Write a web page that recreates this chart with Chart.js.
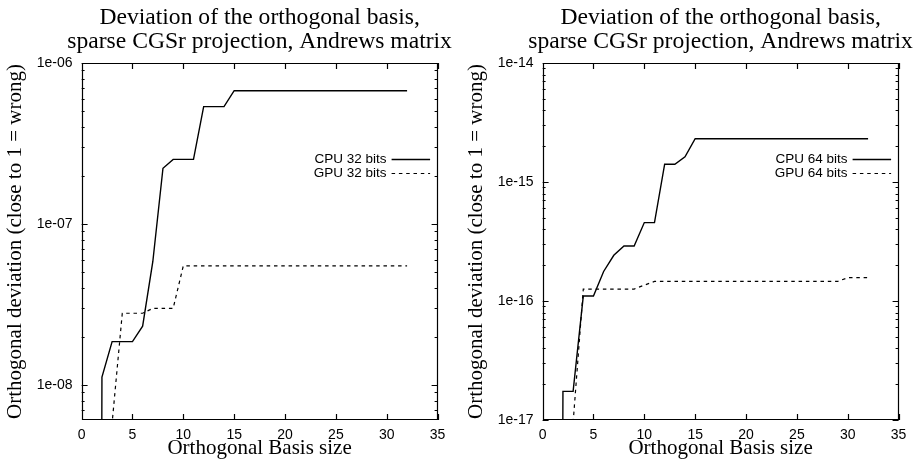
<!DOCTYPE html>
<html>
<head>
<meta charset="utf-8">
<script src="https://cdn.jsdelivr.net/npm/chart.js@4.4.1/dist/chart.umd.min.js"></script>
<style>
  body { margin: 0; background: #fff; width: 924px; height: 465px; overflow: hidden; position: relative; }
  .panel { position: absolute; top: 0; width: 462px; height: 465px; }
</style>
</head>
<body>
<div class="panel" style="left:0"><canvas id="chart32"></canvas></div>
<div class="panel" style="left:461px"><canvas id="chart64"></canvas></div>
<script>
// basis sizes (x) shared by every series
const basisSizes = [1, 2, 3, 4, 5, 6, 7, 8, 9, 10, 11, 12, 13, 14, 15, 16,
  17, 18, 19, 20, 21, 22, 23, 24, 25, 26, 27, 28, 29, 30, 31, 32];

// 32 bit run (first points fall far below the axis)
const cpu32 = [1e-30, 1.12e-8, 1.86e-8, 1.86e-8, 1.86e-8, 2.32e-8, 5.83e-8, 2.22e-7,
  2.52e-7, 2.52e-7, 2.52e-7, 5.36e-7, 5.36e-7, 5.36e-7, 6.73e-7, 6.73e-7,
  6.73e-7, 6.73e-7, 6.73e-7, 6.73e-7, 6.73e-7, 6.73e-7, 6.73e-7, 6.73e-7,
  6.73e-7, 6.73e-7, 6.73e-7, 6.73e-7, 6.73e-7, 6.73e-7, 6.73e-7, 6.73e-7];
const gpu32 = [1e-30, 1e-30, 5.8e-9, 2.79e-8, 2.79e-8, 2.79e-8, 2.99e-8, 2.99e-8,
  2.99e-8, 5.5e-8, 5.5e-8, 5.5e-8, 5.5e-8, 5.5e-8, 5.5e-8, 5.5e-8,
  5.5e-8, 5.5e-8, 5.5e-8, 5.5e-8, 5.5e-8, 5.5e-8, 5.5e-8, 5.5e-8,
  5.5e-8, 5.5e-8, 5.5e-8, 5.5e-8, 5.5e-8, 5.5e-8, 5.5e-8, 5.5e-8];

// 64 bit run
const cpu64 = [1e-40, 1.74e-17, 1.74e-17, 1.10e-16, 1.10e-16, 1.77e-16, 2.42e-16, 2.90e-16,
  2.90e-16, 4.56e-16, 4.56e-16, 1.41e-15, 1.41e-15, 1.63e-15, 2.31e-15, 2.31e-15,
  2.31e-15, 2.31e-15, 2.31e-15, 2.31e-15, 2.31e-15, 2.31e-15, 2.31e-15, 2.31e-15,
  2.31e-15, 2.31e-15, 2.31e-15, 2.31e-15, 2.31e-15, 2.31e-15, 2.31e-15, 2.31e-15];
const gpu64 = [1e-40, 1e-40, 9.5e-18, 1.26e-16, 1.26e-16, 1.26e-16, 1.26e-16, 1.26e-16,
  1.26e-16, 1.36e-16, 1.46e-16, 1.46e-16, 1.46e-16, 1.46e-16, 1.46e-16, 1.46e-16,
  1.46e-16, 1.46e-16, 1.46e-16, 1.46e-16, 1.46e-16, 1.46e-16, 1.46e-16, 1.46e-16,
  1.46e-16, 1.46e-16, 1.46e-16, 1.46e-16, 1.46e-16, 1.57e-16, 1.57e-16, 1.57e-16];

const xTicks = [0, 5, 10, 15, 20, 25, 30, 35];
const yTicks32 = [1e-8, 1e-7, 1e-6];
const yTicks64 = [1e-17, 1e-16, 1e-15, 1e-14];

const titleLines = ['Deviation of the orthogonal basis,', 'sparse CGSr projection, Andrews matrix'];

const sansFont = { family: 'Liberation Sans, Arial, sans-serif', size: 14 };
const serifFont = { family: 'Liberation Serif, Times New Roman, serif', size: 21 };

function expLabel(v) {
  const e = Math.round(Math.log10(v));
  return '1e' + (e < 0 ? '-' : '+') + String(Math.abs(e)).padStart(2, '0');
}

// gnuplot style frame: border plus inward ticks on all four sides
const framePlugin = {
  id: 'frame',
  afterDatasetsDraw(chart) {
    const { ctx, chartArea: a, scales: { x, y } } = chart;
    ctx.save();
    ctx.strokeStyle = '#000';
    ctx.lineWidth = 1.2;
    ctx.beginPath();
    ctx.rect(Math.round(a.left) + 0.5, Math.round(a.top) + 0.5,
      Math.round(a.width) - 1, Math.round(a.height) - 1);
    xTicks.forEach(v => {
      const px = Math.round(x.getPixelForValue(v)) + 0.5;
      ctx.moveTo(px, a.bottom); ctx.lineTo(px, a.bottom - 6);
      ctx.moveTo(px, a.top); ctx.lineTo(px, a.top + 6);
    });
    const lo = Math.floor(Math.log10(y.min)), hi = Math.ceil(Math.log10(y.max));
    for (let d = lo; d <= hi; d++) {
      for (let m = 1; m <= 9; m++) {
        const v = m * Math.pow(10, d);
        if (v < y.min || v > y.max * 1.0001) continue;
        const py = Math.round(y.getPixelForValue(v)) + 0.5;
        const len = m === 1 ? 6 : 3;
        ctx.moveTo(a.left, py); ctx.lineTo(a.left + len, py);
        ctx.moveTo(a.right, py); ctx.lineTo(a.right - len, py);
      }
    }
    ctx.stroke();
    ctx.restore();
  }
};

// two-line title centred over the plot, and the key inside the plot
const textPlugin = {
  id: 'texts',
  afterDraw(chart) {
    const { ctx, chartArea: a } = chart;
    ctx.save();
    ctx.fillStyle = '#000';
    ctx.textAlign = 'center';
    ctx.textBaseline = 'alphabetic';
    ctx.font = '23.6px "Liberation Serif", "Times New Roman", serif';
    const cx = (a.left + a.right) / 2;
    ctx.fillText(titleLines[0], cx, 24);
    ctx.fillText(titleLines[1], cx, 48);

    ctx.font = '13.5px "Liberation Sans", Arial, sans-serif';
    ctx.textAlign = 'right';
    ctx.textBaseline = 'middle';
    chart.data.datasets.forEach((ds, i) => {
      const ky = 159 + i * 14;
      ctx.fillText(ds.label, a.right - 51, ky);
      ctx.strokeStyle = '#000';
      ctx.lineWidth = ds.borderWidth;
      ctx.setLineDash(ds.borderDash || []);
      ctx.beginPath();
      ctx.moveTo(a.right - 46, ky + 0.5);
      ctx.lineTo(a.right - 7.5, ky + 0.5);
      ctx.stroke();
    });
    ctx.restore();
  }
};

function makeChart(id, cpu, gpu, bits, yMin, yMax, yTicks) {
  const ctx = document.getElementById(id).getContext('2d');
  return new Chart(ctx, {
    type: 'line',
    data: {
      datasets: [{
        label: 'CPU ' + bits + ' bits',
        data: basisSizes.map((x, i) => ({ x: x, y: cpu[i] })),
        borderColor: '#000',
        borderWidth: 1.4,
        pointRadius: 0,
        tension: 0
      }, {
        label: 'GPU ' + bits + ' bits',
        data: basisSizes.map((x, i) => ({ x: x, y: gpu[i] })),
        borderColor: '#000',
        borderWidth: 1.2,
        borderDash: [3.5, 3.8],
        pointRadius: 0,
        tension: 0
      }]
    },
    options: {
      responsive: true,
      maintainAspectRatio: false,
      animation: false,
      layout: { padding: { top: 63, right: 24.4, left: 0, bottom: 0 } },
      plugins: { legend: { display: false }, tooltip: { enabled: false } },
      scales: {
        x: {
          type: 'linear', min: 0, max: 35,
          afterBuildTicks: s => { s.ticks = xTicks.map(v => ({ value: v })); },
          afterFit: s => { s.height = 45; },
          grid: { display: false, drawTicks: false },
          border: { display: false },
          ticks: { font: sansFont, color: '#000', padding: 7, maxRotation: 0 },
          title: { display: true, text: 'Orthogonal Basis size', font: serifFont, color: '#000', padding: { top: 0, bottom: 4 } }
        },
        y: {
          type: 'logarithmic', min: yMin, max: yMax,
          afterBuildTicks: s => { s.ticks = yTicks.map(v => ({ value: v })); },
          afterFit: s => { s.width = 81.6; },
          grid: { display: false, drawTicks: false },
          border: { display: false },
          ticks: { font: sansFont, color: '#000', padding: 9, callback: v => expLabel(v) },
          title: { display: true, text: 'Orthogonal deviation (close to 1 = wrong)', font: serifFont, color: '#000', padding: { top: 3, bottom: 0 } }
        }
      }
    },
    plugins: [framePlugin, textPlugin]
  });
}

makeChart('chart32', cpu32, gpu32, 32, 6.06e-9, 1e-6, yTicks32);
makeChart('chart64', cpu64, gpu64, 64, 1e-17, 1e-14, yTicks64);
</script>
</body>
</html>
